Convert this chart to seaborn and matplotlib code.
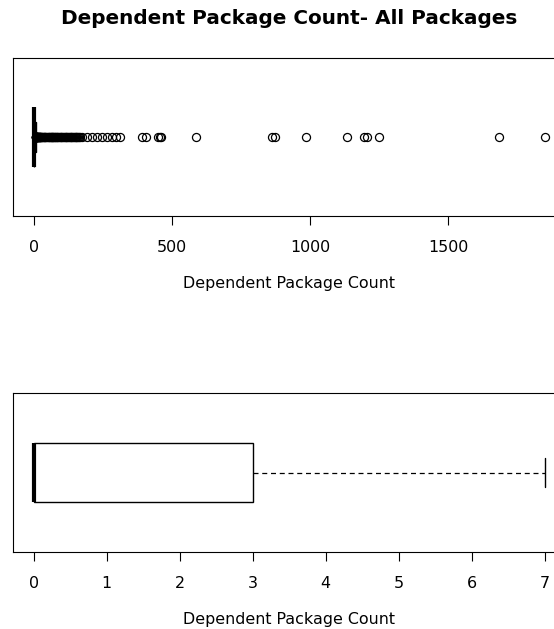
import numpy as np
import pandas as pd
import matplotlib
matplotlib.use("Agg")
import matplotlib.pyplot as plt
import seaborn as sns

# ---- data: dependent package counts ----
# bulk of the distribution (value -> number of packages)
count_values = [0, 1, 2, 3, 4, 5, 6, 7]
count_freq = [1100, 200, 150, 200, 80, 60, 45, 35]

# packages above the upper whisker (outliers)
outliers = [8, 8, 8, 8, 9, 9, 9, 10, 10, 10, 11, 11, 12, 12, 13, 13, 14, 14,
            15, 15, 16, 17, 18, 19, 20, 21, 22, 23, 24, 25, 26, 28, 30, 32,
            34, 36, 38, 40, 42, 45, 48, 51, 54, 57, 60, 62, 64, 66, 68, 70,
            72, 74, 76, 78, 80, 83, 86, 89, 92, 95, 98, 101, 104, 107, 110,
            113, 116, 119, 122, 125, 128, 131, 134, 137, 140, 143, 146, 149,
            152, 155, 158, 161, 164, 167,
            177, 195, 213, 228, 246, 264, 282, 300, 311, 394, 408, 452, 458,
            462, 588, 864, 872, 987, 1133, 1197, 1207, 1250, 1685, 1849]

counts = np.concatenate([np.repeat(count_values, count_freq), outliers])
df = pd.DataFrame({"dep_count": counts})

sns.set_style("white")
plt.rcParams["font.family"] = ["DejaVu Sans"]
plt.rcParams["text.color"] = "black"
plt.rcParams["axes.labelcolor"] = "black"
plt.rcParams["xtick.color"] = "black"

fig = plt.figure(figsize=(5.54, 6.29), dpi=100)
ax1 = fig.add_axes([0.0242, 0.6566, 0.9957, 0.2512])
ax2 = fig.add_axes([0.0242, 0.1229, 0.9957, 0.2518])

box_kw = dict(
    width=0.374,
    color="white",
    linecolor="black",
    linewidth=1,
    boxprops=dict(facecolor="white", edgecolor="black", linewidth=1),
    whiskerprops=dict(color="black", linestyle=(0, (4, 3)), linewidth=0.9),
    capprops=dict(color="black", linewidth=1),
    medianprops=dict(color="black", linewidth=3),
)

sns.boxplot(data=df, x="dep_count", ax=ax1, orient="h", showfliers=True,
            flierprops=dict(marker="o", markerfacecolor="none",
                            markeredgecolor="black", markersize=5.8,
                            markeredgewidth=0.9),
            **box_kw)
sns.boxplot(data=df, x="dep_count", ax=ax2, orient="h", showfliers=False, **box_kw)

ax1.set_xlim(-73, 1923)
ax1.set_xticks([0, 500, 1000, 1500])
ax2.set_xlim(-0.277, 7.28)
ax2.set_xticks(range(0, 8))

for ax in (ax1, ax2):
    ax.set_ylim(0.5, -0.5)
    ax.set_yticks([])
    ax.set_ylabel("")
    ax.set_xlabel("Dependent Package Count", fontsize=11.4, labelpad=15)
    ax.tick_params(axis="x", bottom=True, length=6.5, width=0.8,
                   labelsize=11.4, pad=11, color="black", labelcolor="black")
    for s in ax.spines.values():
        s.set_color("black")
        s.set_linewidth(0.8)

fig.text(289 / 554, 1 - 19 / 629, "Dependent Package Count- All Packages",
         ha="center", va="center", fontsize=14.4, fontweight="bold",
         color="black")

fig.savefig("out.png", dpi=100)
